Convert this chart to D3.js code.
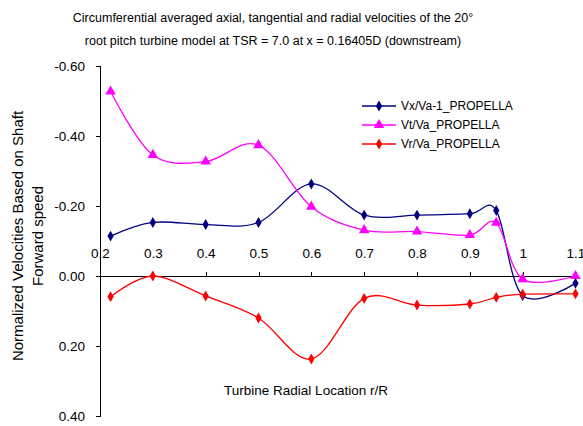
<!DOCTYPE html>
<meta charset="utf-8">
<style>
body { margin: 0; background: #fff; }
text { font-family: "Liberation Sans", Arial, sans-serif; fill: #000; }
.axis path, .axis line { stroke: #000; stroke-width: 1px; shape-rendering: crispEdges; }
</style>
<svg width="583" height="426"></svg>
<script src="https://d3js.org/d3.v7.min.js"></script>
<script>

var radial = [0.22, 0.3, 0.4, 0.5, 0.6, 0.7, 0.8, 0.9, 0.95, 1.0, 1.1];
var vx = [-0.114, -0.153, -0.147, -0.153, -0.263, -0.174, -0.174, -0.178, -0.187, 0.056, 0.021];
var vt = [-0.527, -0.346, -0.327, -0.374, -0.198, -0.131, -0.127, -0.117, -0.152, 0.009, 0.0];
var vr = [0.059, 0.0, 0.057, 0.12, 0.237, 0.064, 0.083, 0.08, 0.061, 0.052, 0.051];
var xTicks = [0.2, 0.3, 0.4, 0.5, 0.6, 0.7, 0.8, 0.9, 1, 1.1];
var yTicks = [-0.6, -0.4, -0.2, 0, 0.2, 0.4];
var names = ["Vx/Va-1_PROPELLA", "Vt/Va_PROPELLA", "Vr/Va_PROPELLA"];
var colors = ["#000080", "#ff00ff", "#ff0000"];

var svg = d3.select("svg");

var x = d3.scaleLinear().domain([0.2, 1.1]).range([100, 575.5]);
var y = d3.scaleLinear().domain([-0.6, 0.4]).range([66, 416]);

// y axis, plain hyphen for negatives like the original
svg.append("g")
    .attr("class", "axis")
    .attr("transform", "translate(100,0)")
    .call(d3.axisLeft(y).tickValues(yTicks).tickSize(4).tickPadding(11)
      .tickFormat(function(d) { return d.toFixed(2); }))
    .call(function(g) { g.selectAll("text").style("font-size", "13.5px"); });

// x axis sits on zero line, ticks pointing up, labels above
var xg = svg.append("g")
    .attr("class", "axis")
    .attr("transform", "translate(0," + y(0) + ")")
    .call(d3.axisTop(x).tickValues(xTicks).tickSize(0).tickSizeOuter(0)
      .tickFormat(function(d) { return String(d); }));
xg.selectAll(".tick line").attr("y2", -4);
xg.selectAll(".tick text").attr("y", -18).style("font-size", "13.5px");
xg.select(".domain").attr("d", "M" + x(0.2) + ",0H" + x(1.1));

var line = d3.line()
    .x(function(d) { return x(d[0]); })
    .y(function(d) { return y(d[1]); })
    .curve(d3.curveCardinal.tension(0));

var series = [vx, vt, vr];
var diamond = d3.symbol().type(d3.symbolDiamond).size(34);
var tri = d3.symbol().type(d3.symbolTriangle).size(48);

series.forEach(function(vals, i) {
  var pts = radial.map(function(r, j) { return [r, vals[j]]; });
  svg.append("path")
      .attr("d", line(pts))
      .attr("fill", "none")
      .attr("stroke", colors[i])
      .attr("stroke-width", 1.3);
  svg.append("g").selectAll("path")
    .data(pts)
    .enter().append("path")
      .attr("transform", function(d) { return "translate(" + x(d[0]) + "," + y(d[1]) + ")"; })
      .attr("d", i == 1 ? tri : diamond)
      .attr("fill", colors[i]);
});

// legend
var legend = svg.append("g").attr("transform", "translate(362,106)");
names.forEach(function(n, i) {
  var row = legend.append("g").attr("transform", "translate(0," + (i * 19) + ")");
  row.append("line").attr("x1", 0).attr("x2", 34)
      .attr("stroke", colors[i]).attr("stroke-width", 1.3);
  row.append("path").attr("transform", "translate(17,0)")
      .attr("d", i == 1 ? tri : diamond).attr("fill", colors[i]);
  row.append("text").attr("x", 39).attr("dy", "0.35em")
      .style("font-size", "12px").text(n);
});

// titles
svg.append("text").attr("x", 273).attr("y", 22).attr("text-anchor", "middle")
    .style("font-size", "12.5px")
    .text("Circumferential averaged axial, tangential and radial velocities of the 20\u00b0");
svg.append("text").attr("x", 273).attr("y", 45).attr("text-anchor", "middle")
    .style("font-size", "12.5px")
    .text("root pitch turbine model at TSR = 7.0 at x = 0.16405D (downstream)");

svg.append("text").attr("x", 306).attr("y", 395).attr("text-anchor", "middle")
    .style("font-size", "13.5px").text("Turbine Radial Location r/R");

svg.append("text").attr("transform", "translate(23,236) rotate(-90)")
    .attr("text-anchor", "middle").style("font-size", "15px")
    .text("Normalized Velocities Based on Shaft");
svg.append("text").attr("transform", "translate(43,236) rotate(-90)")
    .attr("text-anchor", "middle").style("font-size", "15px")
    .text("Forward speed");

</script>
